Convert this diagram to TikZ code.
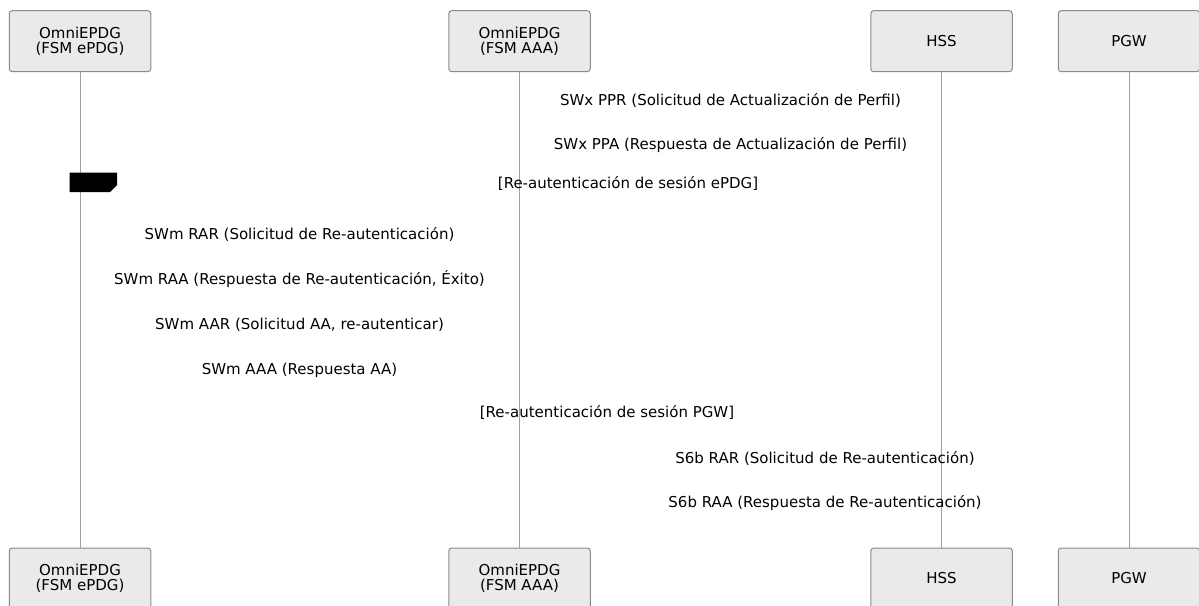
\documentclass[tikz,border=0pt]{standalone}
\usepackage{fontspec}
\setmainfont{DejaVu Sans}
\definecolor{actorfill}{HTML}{EAEAEA}
\definecolor{actorline}{HTML}{8A8A8A}
\definecolor{lifegray}{HTML}{A0A0A0}
\tikzset{
  actor/.style={draw=actorline, line width=1pt, fill=actorfill, rounded corners=3pt, minimum width=141.5pt, minimum height=61pt, align=center, inner sep=0pt, font=\fontsize{15}{15.5}\selectfont},
  msg/.style={inner sep=0pt, font=\fontsize{15}{15.5}\selectfont},
  life/.style={draw=lifegray, line width=1pt}
}
\begin{document}
\begin{tikzpicture}[x=1pt,y=-1pt]
\useasboundingbox (0,0) rectangle (1199,605);
\node[actor] (epdg0) at (80,41.2){OmniEPDG\\(FSM ePDG)};
\node[actor] (aaa0) at (519.5,41.2){OmniEPDG\\(FSM AAA)};
\node[actor] (hss0) at (941.5,41.2){HSS};
\node[actor] (pgw0) at (1129,41.2){PGW};
\node[actor] (epdg1) at (80,578.5){OmniEPDG\\(FSM ePDG)};
\node[actor] (aaa1) at (519.5,578.5){OmniEPDG\\(FSM AAA)};
\node[actor] (hss1) at (941.5,578.5){HSS};
\node[actor] (pgw1) at (1129,578.5){PGW};
\draw[life](epdg0) -- (epdg1);
\draw[life](aaa0) -- (aaa1);
\draw[life](hss0) -- (hss1);
\draw[life](pgw0) -- (pgw1);
\fill[black] (69.5,172.5) -- (117,172.5) -- (117,185) -- (110,192) -- (69.5,192) -- cycle;
\node[msg] (ppr) at (730.5,100.5){SWx PPR (Solicitud de Actualización de Perfil)};
\node[msg] (ppa) at (730.5,145.5){SWx PPA (Respuesta de Actualización de Perfil)};
\node[msg] (loopepdg) at (628,183.5){[Re-autenticación de sesión ePDG]};
\node[msg] (swmrar) at (299.5,234){SWm RAR (Solicitud de Re-autenticación)};
\node[msg] (swmraa) at (299.5,279.5){SWm RAA (Respuesta de Re-autenticación, Éxito)};
\node[msg] (swmaar) at (299.5,325){SWm AAR (Solicitud AA, re-autenticar)};
\node[msg] (swmaaa) at (299.5,370){SWm AAA (Respuesta AA)};
\node[msg] (looppgw) at (607,412){[Re-autenticación de sesión PGW]};
\node[msg] (s6brar) at (825,458){S6b RAR (Solicitud de Re-autenticación)};
\node[msg] (s6braa) at (825,503){S6b RAA (Respuesta de Re-autenticación)};
\end{tikzpicture}
\end{document}
